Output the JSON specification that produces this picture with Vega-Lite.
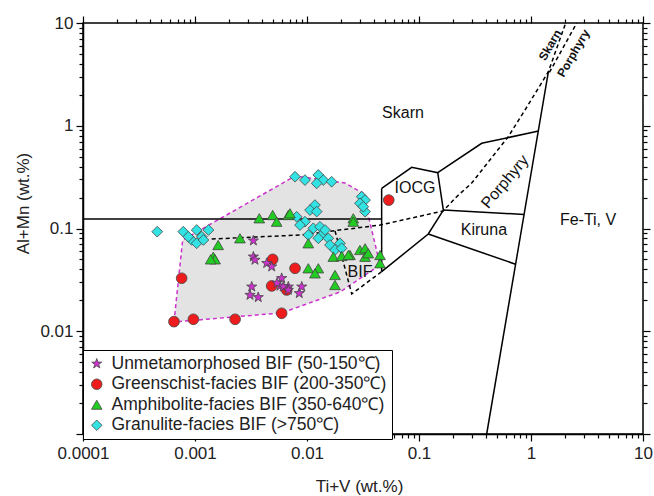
{
  "$schema": "https://vega.github.io/schema/vega-lite/v6.json",
  "width": 560,
  "height": 411,
  "autosize": {"type": "none"},
  "padding": {"left": 83, "top": 23, "right": 11, "bottom": 62},
  "background": "white",
  "config": {
    "font": "Liberation Sans",
    "view": {"stroke": "black", "strokeWidth": 1.5},
    "axis": {"domainColor": "black", "domainWidth": 1.5, "tickColor": "black", "tickWidth": 1.2, "labelFont": "Liberation Sans", "labelFontSize": 17, "labelColor": "#222", "titleFont": "Liberation Sans", "titleFontSize": 17, "titleFontWeight": "normal", "titleColor": "#222", "grid": false, "labelFlush": false, "labelOverlap": false}
  },
  "datasets": {
    "pts": [
      {"g": "Granulite-facies BIF (>750℃)", "x": 0.00046, "y": 0.0931},
      {"g": "Granulite-facies BIF (>750℃)", "x": 0.000786, "y": 0.0931},
      {"g": "Granulite-facies BIF (>750℃)", "x": 0.000934, "y": 0.0773},
      {"g": "Granulite-facies BIF (>750℃)", "x": 0.001035, "y": 0.0967},
      {"g": "Granulite-facies BIF (>750℃)", "x": 0.00115, "y": 0.0832},
      {"g": "Granulite-facies BIF (>750℃)", "x": 0.00132, "y": 0.0967},
      {"g": "Granulite-facies BIF (>750℃)", "x": 0.001035, "y": 0.0718},
      {"g": "Granulite-facies BIF (>750℃)", "x": 0.00119, "y": 0.0773},
      {"g": "Granulite-facies BIF (>750℃)", "x": 0.000871, "y": 0.0832},
      {"g": "Granulite-facies BIF (>750℃)", "x": 0.00782, "y": 0.319},
      {"g": "Granulite-facies BIF (>750℃)", "x": 0.00959, "y": 0.296},
      {"g": "Granulite-facies BIF (>750℃)", "x": 0.01262, "y": 0.332},
      {"g": "Granulite-facies BIF (>750℃)", "x": 0.01398, "y": 0.296},
      {"g": "Granulite-facies BIF (>750℃)", "x": 0.0166, "y": 0.285},
      {"g": "Granulite-facies BIF (>750℃)", "x": 0.01221, "y": 0.275},
      {"g": "Granulite-facies BIF (>750℃)", "x": 0.0308, "y": 0.204},
      {"g": "Granulite-facies BIF (>750℃)", "x": 0.033, "y": 0.189},
      {"g": "Granulite-facies BIF (>750℃)", "x": 0.0297, "y": 0.176},
      {"g": "Granulite-facies BIF (>750℃)", "x": 0.033, "y": 0.146},
      {"g": "Granulite-facies BIF (>750℃)", "x": 0.0318, "y": 0.163},
      {"g": "Granulite-facies BIF (>750℃)", "x": 0.01178, "y": 0.169},
      {"g": "Granulite-facies BIF (>750℃)", "x": 0.01064, "y": 0.151},
      {"g": "Granulite-facies BIF (>750℃)", "x": 0.01221, "y": 0.146},
      {"g": "Granulite-facies BIF (>750℃)", "x": 0.00809, "y": 0.13},
      {"g": "Granulite-facies BIF (>750℃)", "x": 0.00959, "y": 0.1165},
      {"g": "Granulite-facies BIF (>750℃)", "x": 0.01138, "y": 0.1005},
      {"g": "Granulite-facies BIF (>750℃)", "x": 0.01306, "y": 0.104},
      {"g": "Granulite-facies BIF (>750℃)", "x": 0.01027, "y": 0.0865},
      {"g": "Granulite-facies BIF (>750℃)", "x": 0.01352, "y": 0.0865},
      {"g": "Granulite-facies BIF (>750℃)", "x": 0.01262, "y": 0.0803},
      {"g": "Granulite-facies BIF (>750℃)", "x": 0.01549, "y": 0.0803},
      {"g": "Granulite-facies BIF (>750℃)", "x": 0.01603, "y": 0.0691},
      {"g": "Granulite-facies BIF (>750℃)", "x": 0.01971, "y": 0.0718},
      {"g": "Granulite-facies BIF (>750℃)", "x": 0.01778, "y": 0.0618},
      {"g": "Granulite-facies BIF (>750℃)", "x": 0.0204, "y": 0.0642},
      {"g": "Granulite-facies BIF (>750℃)", "x": 0.00866, "y": 0.108},
      {"g": "Granulite-facies BIF (>750℃)", "x": 0.0145, "y": 0.0967},
      {"g": "Amphibolite-facies BIF (350-640℃)", "x": 0.00375, "y": 0.1257},
      {"g": "Amphibolite-facies BIF (350-640℃)", "x": 0.00494, "y": 0.1353},
      {"g": "Amphibolite-facies BIF (350-640℃)", "x": 0.00536, "y": 0.1165},
      {"g": "Amphibolite-facies BIF (350-640℃)", "x": 0.00681, "y": 0.1353},
      {"g": "Amphibolite-facies BIF (350-640℃)", "x": 0.00252, "y": 0.0803},
      {"g": "Amphibolite-facies BIF (350-640℃)", "x": 0.00161, "y": 0.0691},
      {"g": "Amphibolite-facies BIF (350-640℃)", "x": 0.001457, "y": 0.0531},
      {"g": "Amphibolite-facies BIF (350-640℃)", "x": 0.00151, "y": 0.0501},
      {"g": "Amphibolite-facies BIF (350-640℃)", "x": 0.00138, "y": 0.0501},
      {"g": "Amphibolite-facies BIF (350-640℃)", "x": 0.00705, "y": 0.1406},
      {"g": "Amphibolite-facies BIF (350-640℃)", "x": 0.0259, "y": 0.1257},
      {"g": "Amphibolite-facies BIF (350-640℃)", "x": 0.01027, "y": 0.0718},
      {"g": "Amphibolite-facies BIF (350-640℃)", "x": 0.01718, "y": 0.0531},
      {"g": "Amphibolite-facies BIF (350-640℃)", "x": 0.0204, "y": 0.054},
      {"g": "Amphibolite-facies BIF (350-640℃)", "x": 0.0242, "y": 0.0552},
      {"g": "Amphibolite-facies BIF (350-640℃)", "x": 0.0297, "y": 0.0618},
      {"g": "Amphibolite-facies BIF (350-640℃)", "x": 0.033, "y": 0.0642},
      {"g": "Amphibolite-facies BIF (350-640℃)", "x": 0.033, "y": 0.0531},
      {"g": "Amphibolite-facies BIF (350-640℃)", "x": 0.0449, "y": 0.0552},
      {"g": "Amphibolite-facies BIF (350-640℃)", "x": 0.0449, "y": 0.0459},
      {"g": "Amphibolite-facies BIF (350-640℃)", "x": 0.01027, "y": 0.041},
      {"g": "Amphibolite-facies BIF (350-640℃)", "x": 0.01262, "y": 0.041},
      {"g": "Amphibolite-facies BIF (350-640℃)", "x": 0.01178, "y": 0.0366},
      {"g": "Amphibolite-facies BIF (350-640℃)", "x": 0.01778, "y": 0.0353},
      {"g": "Amphibolite-facies BIF (350-640℃)", "x": 0.01778, "y": 0.0282},
      {"g": "Amphibolite-facies BIF (350-640℃)", "x": 0.0352, "y": 0.0574},
      {"g": "Amphibolite-facies BIF (350-640℃)", "x": 0.0259, "y": 0.1165},
      {"g": "Amphibolite-facies BIF (350-640℃)", "x": 0.0234, "y": 0.0552},
      {"g": "Greenschist-facies BIF (200-350℃)", "x": 0.00076, "y": 0.0328},
      {"g": "Greenschist-facies BIF (200-350℃)", "x": 0.000649, "y": 0.0124},
      {"g": "Greenschist-facies BIF (200-350℃)", "x": 0.000967, "y": 0.01307},
      {"g": "Greenschist-facies BIF (200-350℃)", "x": 0.00228, "y": 0.01307},
      {"g": "Greenschist-facies BIF (200-350℃)", "x": 0.00594, "y": 0.01495},
      {"g": "Greenschist-facies BIF (200-350℃)", "x": 0.00494, "y": 0.0501},
      {"g": "Greenschist-facies BIF (200-350℃)", "x": 0.00782, "y": 0.041},
      {"g": "Greenschist-facies BIF (200-350℃)", "x": 0.00484, "y": 0.0276},
      {"g": "Greenschist-facies BIF (200-350℃)", "x": 0.00659, "y": 0.0252},
      {"g": "Greenschist-facies BIF (200-350℃)", "x": 0.0537, "y": 0.189},
      {"g": "Unmetamorphosed BIF (50-150℃)", "x": 0.00332, "y": 0.0761},
      {"g": "Unmetamorphosed BIF (50-150℃)", "x": 0.00332, "y": 0.0531},
      {"g": "Unmetamorphosed BIF (50-150℃)", "x": 0.00343, "y": 0.0494},
      {"g": "Unmetamorphosed BIF (50-150℃)", "x": 0.00437, "y": 0.0459},
      {"g": "Unmetamorphosed BIF (50-150℃)", "x": 0.00484, "y": 0.0425},
      {"g": "Unmetamorphosed BIF (50-150℃)", "x": 0.00594, "y": 0.0328},
      {"g": "Unmetamorphosed BIF (50-150℃)", "x": 0.00574, "y": 0.0276},
      {"g": "Unmetamorphosed BIF (50-150℃)", "x": 0.00681, "y": 0.0271},
      {"g": "Unmetamorphosed BIF (50-150℃)", "x": 0.00321, "y": 0.0271},
      {"g": "Unmetamorphosed BIF (50-150℃)", "x": 0.0031, "y": 0.0225},
      {"g": "Unmetamorphosed BIF (50-150℃)", "x": 0.00367, "y": 0.0214},
      {"g": "Unmetamorphosed BIF (50-150℃)", "x": 0.00853, "y": 0.0234},
      {"g": "Unmetamorphosed BIF (50-150℃)", "x": 0.00614, "y": 0.0271},
      {"g": "Unmetamorphosed BIF (50-150℃)", "x": 0.00897, "y": 0.0271},
      {"g": "Unmetamorphosed BIF (50-150℃)", "x": 0.00681, "y": 0.0252},
      {"g": "Unmetamorphosed BIF (50-150℃)", "x": 0.0054, "y": 0.0295}
    ],
    "poly": [
      {"o": 1, "x": 0.000649, "y": 0.0123},
      {"o": 2, "x": 0.000776, "y": 0.0773},
      {"o": 3, "x": 0.00782, "y": 0.324},
      {"o": 4, "x": 0.0218, "y": 0.277},
      {"o": 5, "x": 0.0316, "y": 0.221},
      {"o": 6, "x": 0.0449, "y": 0.0441},
      {"o": 7, "x": 0.0197, "y": 0.0241},
      {"o": 8, "x": 0.00598, "y": 0.0151},
      {"o": 9, "x": 0.000649, "y": 0.0123}
    ],
    "solid": [
      {"s": "A", "o": 1, "x": 0.0001, "y": 0.1237},
      {"s": "A", "o": 2, "x": 0.0464, "y": 0.1237},
      {"s": "B", "o": 1, "x": 0.0464, "y": 0.246},
      {"s": "B", "o": 2, "x": 0.0464, "y": 0.038},
      {"s": "C", "o": 1, "x": 0.0464, "y": 0.246},
      {"s": "C", "o": 2, "x": 0.0861, "y": 0.394},
      {"s": "C", "o": 3, "x": 0.147, "y": 0.349},
      {"s": "C", "o": 4, "x": 0.165, "y": 0.151},
      {"s": "C", "o": 5, "x": 0.121, "y": 0.0884},
      {"s": "C", "o": 6, "x": 0.0464, "y": 0.038},
      {"s": "D", "o": 1, "x": 0.147, "y": 0.349},
      {"s": "D", "o": 2, "x": 0.363, "y": 0.675},
      {"s": "D", "o": 3, "x": 1.17, "y": 0.889},
      {"s": "E", "o": 1, "x": 0.165, "y": 0.151},
      {"s": "E", "o": 2, "x": 0.868, "y": 0.137},
      {"s": "F", "o": 1, "x": 0.121, "y": 0.0884},
      {"s": "F", "o": 2, "x": 0.728, "y": 0.0449},
      {"s": "G", "o": 1, "x": 1.43, "y": 3.36},
      {"s": "G", "o": 2, "x": 0.402, "y": 0.001}
    ],
    "dashed": [
      {"s": "H", "o": 1, "x": 0.00141, "y": 0.079},
      {"s": "H", "o": 2, "x": 0.00866, "y": 0.0865},
      {"s": "H", "o": 3, "x": 0.0449, "y": 0.108},
      {"s": "H", "o": 4, "x": 0.164, "y": 0.148},
      {"s": "H", "o": 5, "x": 0.217, "y": 0.204},
      {"s": "H", "o": 6, "x": 0.2955, "y": 0.277},
      {"s": "H", "o": 7, "x": 0.626, "y": 0.782},
      {"s": "H", "o": 8, "x": 0.883, "y": 1.42},
      {"s": "H", "o": 9, "x": 1.43, "y": 3.36},
      {"s": "H", "o": 10, "x": 2.04, "y": 10},
      {"s": "I", "o": 1, "x": 1.46, "y": 3.3},
      {"s": "I", "o": 2, "x": 2.56, "y": 10},
      {"s": "J", "o": 1, "x": 0.0178, "y": 0.0946},
      {"s": "J", "o": 2, "x": 0.0251, "y": 0.0231},
      {"s": "J", "o": 3, "x": 0.0464, "y": 0.038}
    ],
    "labels": [
      {"t": "Skarn", "x": 0.0719, "y": 1.33},
      {"t": "IOCG", "x": 0.092, "y": 0.246},
      {"t": "Kiruna", "x": 0.38, "y": 0.0967},
      {"t": "Fe-Ti, V", "x": 3.23, "y": 0.121},
      {"t": "BIF", "x": 0.0297, "y": 0.038}
    ]
  },
  "resolve": {"axis": {"x": "independent", "y": "independent"}},
  "layer": [
    {
      "data": {"name": "poly"},
      "mark": {"type": "line", "fill": "#e3e3e3", "stroke": "#cc33cc", "strokeWidth": 1.5, "strokeDash": [4, 3], "fillOpacity": 1},
      "encoding": {
        "x": {"field": "x", "type": "quantitative", "scale": {"type": "log", "domain": [0.0001, 10], "nice": false},
          "axis": {"orient": "top", "labels": false, "title": null, "domain": false,
            "values": [0.0001,0.0002,0.0003,0.0004,0.0005,0.0006,0.0007,0.0008,0.0009,0.001,0.002,0.003,0.004,0.005,0.006,0.007,0.008,0.009,0.01,0.02,0.03,0.04,0.05,0.06,0.07,0.08,0.09,0.1,0.2,0.3,0.4,0.5,0.6,0.7,0.8,0.9,1,2,3,4,5,6,7,8,9,10],
            "tickSize": {"condition": {"test": "datum.value==0.0001||datum.value==0.001||datum.value==0.01||datum.value==0.1||datum.value==1||datum.value==10", "value": 7}, "value": 4}}},
        "y": {"field": "y", "type": "quantitative", "scale": {"type": "log", "domain": [0.001, 10], "nice": false},
          "axis": {"orient": "right", "labels": false, "title": null, "domain": false,
            "values": [0.001,0.002,0.003,0.004,0.005,0.006,0.007,0.008,0.009,0.01,0.02,0.03,0.04,0.05,0.06,0.07,0.08,0.09,0.1,0.2,0.3,0.4,0.5,0.6,0.7,0.8,0.9,1,2,3,4,5,6,7,8,9,10],
            "tickSize": {"condition": {"test": "datum.value==0.001||datum.value==0.01||datum.value==0.1||datum.value==1||datum.value==10", "value": 7}, "value": 4}}},
        "order": {"field": "o", "type": "quantitative"}
      }
    },
    {
      "data": {"name": "solid"},
      "mark": {"type": "line", "color": "black", "strokeWidth": 1.5},
      "encoding": {
        "x": {"field": "x", "type": "quantitative", "axis": null},
        "y": {"field": "y", "type": "quantitative", "axis": null},
        "detail": {"field": "s"},
        "order": {"field": "o", "type": "quantitative"}
      }
    },
    {
      "data": {"name": "dashed"},
      "mark": {"type": "line", "color": "black", "strokeWidth": 1.5, "strokeDash": [4, 3]},
      "encoding": {
        "x": {"field": "x", "type": "quantitative", "axis": null},
        "y": {"field": "y", "type": "quantitative", "axis": null},
        "detail": {"field": "s"},
        "order": {"field": "o", "type": "quantitative"}
      }
    },
    {
      "data": {"name": "pts"},
      "mark": {"type": "point", "filled": true, "stroke": "#444", "strokeWidth": 0.8, "opacity": 1, "size": 115},
      "encoding": {
        "x": {"field": "x", "type": "quantitative", "title": "Ti+V (wt.%)",
          "axis": {"orient": "bottom", "format": "~g",
            "values": [0.0001,0.0002,0.0003,0.0004,0.0005,0.0006,0.0007,0.0008,0.0009,0.001,0.002,0.003,0.004,0.005,0.006,0.007,0.008,0.009,0.01,0.02,0.03,0.04,0.05,0.06,0.07,0.08,0.09,0.1,0.2,0.3,0.4,0.5,0.6,0.7,0.8,0.9,1,2,3,4,5,6,7,8,9,10],
            "labelExpr": "(datum.value==0.0001||datum.value==0.001||datum.value==0.01||datum.value==0.1||datum.value==1||datum.value==10) ? datum.label : ''",
            "labelPadding": 4,
            "tickSize": {"condition": {"test": "datum.value==0.0001||datum.value==0.001||datum.value==0.01||datum.value==0.1||datum.value==1||datum.value==10", "value": 7}, "value": 4},
            "titleX": 276, "titleY": 52, "titleBaseline": "middle", "titleAlign": "center", "titleFontSize": 17}},
        "y": {"field": "y", "type": "quantitative", "title": "Al+Mn (wt.%)",
          "axis": {"orient": "left", "format": "~g",
            "values": [0.001,0.002,0.003,0.004,0.005,0.006,0.007,0.008,0.009,0.01,0.02,0.03,0.04,0.05,0.06,0.07,0.08,0.09,0.1,0.2,0.3,0.4,0.5,0.6,0.7,0.8,0.9,1,2,3,4,5,6,7,8,9,10],
            "labelExpr": "(datum.value==0.01||datum.value==0.1||datum.value==1||datum.value==10) ? datum.label : ''",
            "labelPadding": 3,
            "tickSize": {"condition": {"test": "datum.value==0.001||datum.value==0.01||datum.value==0.1||datum.value==1||datum.value==10", "value": 7}, "value": 4},
            "titleX": -60, "titleY": 180, "titleBaseline": "middle", "titleAlign": "center", "titleAngle": -90, "titleFontSize": 17}},
        "shape": {"field": "g", "type": "nominal",
          "scale": {"domain": ["Unmetamorphosed BIF (50-150℃)", "Greenschist-facies BIF (200-350℃)", "Amphibolite-facies BIF (350-640℃)", "Granulite-facies BIF (>750℃)"],
            "range": ["M0,-1L0.235,-0.324L0.951,-0.309L0.38,0.124L0.588,0.809L0,0.4L-0.588,0.809L-0.38,0.124L-0.951,-0.309L-0.235,-0.324Z", "circle", "triangle-up", "diamond"]},
          "legend": {"title": null}},
        "fill": {"field": "g", "type": "nominal",
          "scale": {"domain": ["Unmetamorphosed BIF (50-150℃)", "Greenschist-facies BIF (200-350℃)", "Amphibolite-facies BIF (350-640℃)", "Granulite-facies BIF (>750℃)"],
            "range": ["#cc33cc", "#ee1c1c", "#22cc22", "#33e3e3"]},
          "legend": {"title": null, "orient": "none", "legendX": 0, "legendY": 327, "fillColor": "white", "strokeColor": "black", "padding": 5, "labelFontSize": 17.5, "labelFont": "Liberation Sans", "labelColor": "#222", "labelLimit": 0, "symbolSize": 110, "symbolStrokeColor": "#444", "symbolStrokeWidth": 0.8, "rowPadding": 1.5, "labelOffset": 6}}
      }
    },
    {
      "data": {"name": "labels"},
      "mark": {"type": "text", "fontSize": 16, "font": "Liberation Sans", "color": "#111", "align": "center", "baseline": "middle"},
      "encoding": {
        "x": {"field": "x", "type": "quantitative", "axis": null},
        "y": {"field": "y", "type": "quantitative", "axis": null},
        "text": {"field": "t"}
      }
    },
    {
      "data": {"values": [{"t": "Porphyry", "x": 0.586, "y": 0.285}]},
      "mark": {"type": "text", "fontSize": 16, "font": "Liberation Sans", "color": "#111", "align": "center", "baseline": "middle", "angle": -50},
      "encoding": {
        "x": {"field": "x", "type": "quantitative", "axis": null},
        "y": {"field": "y", "type": "quantitative", "axis": null},
        "text": {"field": "t"}
      }
    },
    {
      "data": {"values": [{"t": "Skarn", "x": 1.48, "y": 6.1}, {"t": "Porphyry", "x": 2.39, "y": 5.07}]},
      "mark": {"type": "text", "fontSize": 12, "fontWeight": "bold", "font": "Liberation Sans", "color": "#111", "align": "center", "baseline": "middle", "angle": -60},
      "encoding": {
        "x": {"field": "x", "type": "quantitative", "axis": null},
        "y": {"field": "y", "type": "quantitative", "axis": null},
        "text": {"field": "t"}
      }
    }
  ]
}
